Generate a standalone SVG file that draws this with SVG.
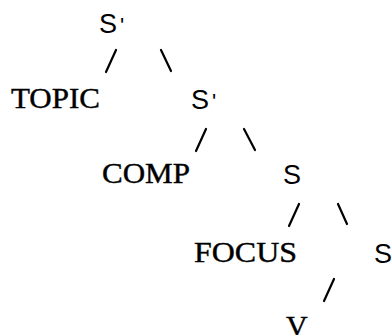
<svg xmlns="http://www.w3.org/2000/svg" width="392" height="335" viewBox="0 0 392 335">
  <style>
    .lbl { font-family: "Liberation Serif", "Times New Roman", serif; font-size: 30px; fill: #000; stroke: #000; stroke-width: 0.4; }
    .cat { font-family: "Liberation Sans", Arial, sans-serif; font-size: 27px; fill: #000; }
    .edge { stroke: #000; stroke-width: 2.2; stroke-linecap: round; fill: none; }
  </style>
  <rect width="392" height="335" fill="#fff"/>

  <!-- tree branches -->
  <g id="connectors">
    <line class="edge" x1="116" y1="50" x2="106" y2="72"/>
    <line class="edge" x1="161" y1="50" x2="171" y2="71"/>
    <line class="edge" x1="206" y1="129" x2="196" y2="151"/>
    <line class="edge" x1="244" y1="129" x2="255" y2="150"/>
    <line class="edge" x1="299" y1="204" x2="289" y2="226"/>
    <line class="edge" x1="338" y1="204" x2="347" y2="224"/>
    <line class="edge" x1="334" y1="279" x2="324" y2="301"/>
  </g>

  <g id="node-sbar-root">
    <text class="cat" x="99" y="33">S<tspan dx="3" font-size="22">'</tspan></text>
  </g>
  <g id="node-topic">
    <text class="lbl" x="11" y="108" textLength="89" lengthAdjust="spacingAndGlyphs">TOPIC</text>
  </g>
  <g id="node-sbar">
    <text class="cat" x="191" y="109">S<tspan dx="3" font-size="22">'</tspan></text>
  </g>
  <g id="node-comp">
    <text class="lbl" x="102" y="183" textLength="88" lengthAdjust="spacingAndGlyphs">COMP</text>
  </g>
  <g id="node-s">
    <text class="cat" x="283" y="184">S</text>
  </g>
  <g id="node-focus">
    <text class="lbl" x="194" y="262" textLength="103" lengthAdjust="spacingAndGlyphs">FOCUS</text>
  </g>
  <g id="node-s-right">
    <text class="cat" x="374" y="263">S</text>
  </g>
  <g id="node-v">
    <text class="lbl" x="286" y="336">V</text>
  </g>
</svg>
